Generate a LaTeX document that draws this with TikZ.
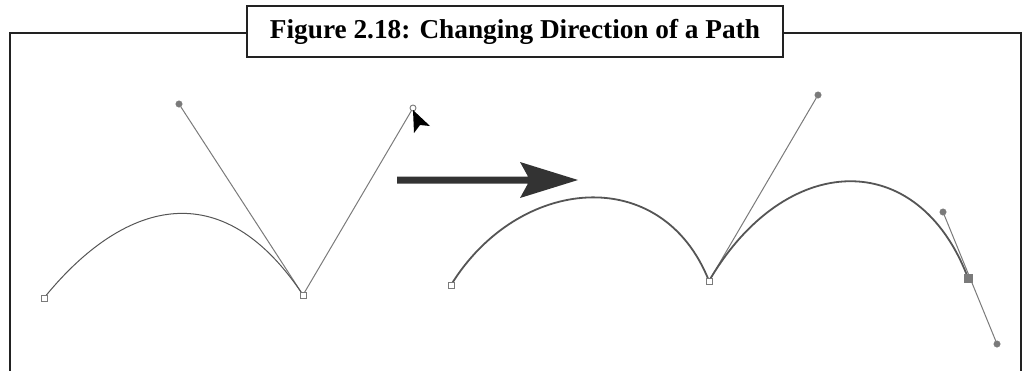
\documentclass[tikz,border=0pt]{standalone}
\usepackage{fontspec}
\setmainfont{Liberation Serif}
\usetikzlibrary{calc}
\definecolor{framec}{HTML}{222222}
\definecolor{pathc}{HTML}{555555}
\definecolor{handlec}{HTML}{7A7A7A}
\definecolor{arrowc}{HTML}{333333}
\tikzset{
  frameline/.style={draw=framec, line width=2.2bp},
  anchorsq/.style={draw=handlec, fill=white, line width=1bp, minimum size=6bp, inner sep=0pt, rectangle},
  filledsq/.style={draw=handlec, fill=handlec, minimum size=8bp, inner sep=0pt, rectangle},
  handledot/.style={draw=handlec, fill=handlec, circle, minimum size=6.5bp, inner sep=0pt},
  opendot/.style={draw=handlec, fill=white, circle, line width=0.9bp, minimum size=6bp, inner sep=0pt},
  handleline/.style={draw=handlec, line width=1bp},
  thinpath/.style={draw=pathc, line width=1bp},
  thickpath/.style={draw=pathc, line width=1.8bp},
}
\begin{document}
\begin{tikzpicture}[x=1bp, y=-1bp]
\useasboundingbox (0,0) rectangle (1029,370);
% frame
\coordinate (fbl) at (10,372);
\coordinate (ftl) at (10,33);
\coordinate (ftr) at (1021,33);
\coordinate (fbr) at (1021,372);
\node[frameline, fill=white, minimum width=536bp, minimum height=51bp, inner sep=0pt] (title) at (515,31.5)
  {\resizebox{490bp}{!}{\bfseries Figure 2.18: Changing Direction of a Path}};
\draw[frameline] (fbl) -- (ftl) -- (title.west |- ftl);
\draw[frameline] (title.east |- ftr) -- (ftr) -- (fbr);

% left drawing
\node[handledot] (lh1) at (179,104) {};
\node[opendot] (lh2) at (413,108) {};
\draw[handleline] (303,295) -- (lh1);
\draw[handleline] (303,295) -- (lh2);
\draw[thinpath] (44,298) .. controls (115,210) and (216,164) .. (303,295);
\node[anchorsq] (la1) at (44,298) {};
\node[anchorsq] (la2) at (303,295) {};
\fill[black] (413,110) -- (430,126) -- (420,125) -- (414,133) -- cycle;

% big arrow
\coordinate (as) at (397,180);
\coordinate (ae) at (578,180);
\fill[arrowc] (as) ++(0,-3.5) -- (528,176.5) -- (520,162) -- (ae) -- (520,198) -- (528,183.5) -- (397,183.5) -- cycle;

% right drawing
\node[handledot] (rh1) at (818,95) {};
\node[handledot] (rh2) at (943,212) {};
\node[handledot] (rh3) at (997,344) {};
\draw[handleline] (709,281) -- (rh1);
\draw[handleline] (rh2) -- (rh3);
\draw[thickpath] (451,285) .. controls (518,176) and (662,162) .. (709,281);
\draw[thickpath] (709,281) .. controls (785,151) and (918,146) .. (968,278);
\node[anchorsq] (ra1) at (451,285) {};
\node[anchorsq] (ra2) at (709,281) {};
\node[filledsq] (ra3) at (968,278) {};
\end{tikzpicture}
\end{document}
